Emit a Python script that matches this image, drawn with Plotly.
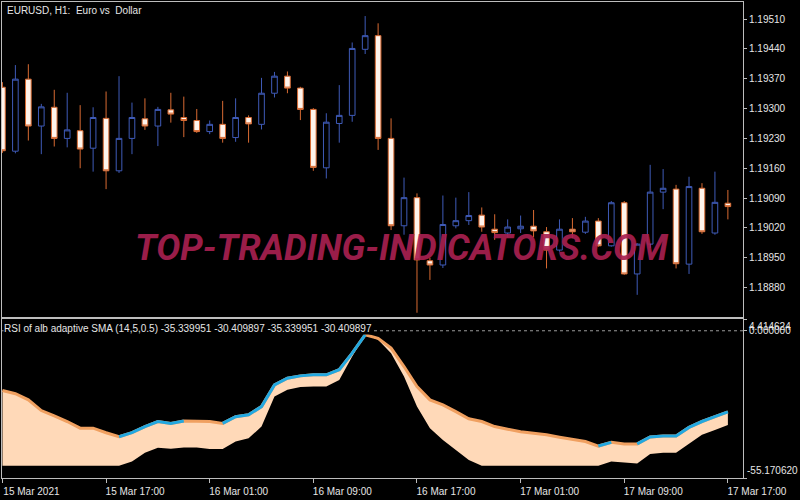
import pandas as pd
import plotly.graph_objects as go

# ---------------- data ----------------
times = pd.date_range("2021-03-15 09:00", periods=57, freq="h")

open_ = [1.19350, 1.19200, 1.19369, 1.19259, 1.19303, 1.19230, 1.19248, 1.19207, 1.19277, 1.19154,
         1.19230, 1.19276, 1.19259, 1.19297, 1.19279, 1.19272, 1.19246, 1.19263, 1.19232, 1.19279,
         1.19263, 1.19336, 1.19376, 1.19348, 1.19298, 1.19161, 1.19265, 1.19284, 1.19439, 1.19471,
         1.19230, 1.19025, 1.19091, 1.18943, 1.18933, 1.19025, 1.19037, 1.19050, 1.19017, 1.19008,
         1.19018, 1.19024, 1.19011, 1.18968, 1.19017, 1.19010, 1.19036, 1.18978, 1.19079, 1.18912,
         1.18982, 1.19104, 1.19111, 1.18935, 1.19113, 1.19008, 1.19078]
high = [1.19362, 1.19402, 1.19404, 1.19311, 1.19344, 1.19337, 1.19308, 1.19303, 1.19340, 1.19376,
        1.19314, 1.19324, 1.19304, 1.19337, 1.19328, 1.19299, 1.19272, 1.19318, 1.19324, 1.19284,
        1.19372, 1.19386, 1.19387, 1.19351, 1.19301, 1.19289, 1.19355, 1.19455, 1.19517, 1.19500,
        1.19277, 1.19138, 1.19101, 1.18950, 1.19096, 1.19091, 1.19104, 1.19068, 1.19052, 1.19040,
        1.19049, 1.19062, 1.19022, 1.19040, 1.19043, 1.19046, 1.19043, 1.19083, 1.19083, 1.18984,
        1.19168, 1.19158, 1.19121, 1.19140, 1.19125, 1.19152, 1.19109]
low = [1.19196, 1.19195, 1.19225, 1.19193, 1.19211, 1.19209, 1.19160, 1.19152, 1.19111, 1.19149,
       1.19193, 1.19250, 1.19212, 1.19267, 1.19233, 1.19243, 1.19240, 1.19220, 1.19222, 1.19220,
       1.19251, 1.19326, 1.19336, 1.19273, 1.19154, 1.19136, 1.19220, 1.19269, 1.19428, 1.19203,
       1.19015, 1.19004, 1.18821, 1.18898, 1.18926, 1.19019, 1.19027, 1.19011, 1.18992, 1.18998,
       1.19008, 1.18998, 1.18925, 1.18964, 1.18996, 1.19006, 1.18976, 1.18976, 1.18910, 1.18863,
       1.18973, 1.19064, 1.18925, 1.18912, 1.19006, 1.19004, 1.19040]
close = [1.19201, 1.19369, 1.19259, 1.19304, 1.19230, 1.19250, 1.19205, 1.19279, 1.19154, 1.19230,
         1.19279, 1.19259, 1.19298, 1.19287, 1.19272, 1.19246, 1.19263, 1.19230, 1.19279, 1.19264,
         1.19336, 1.19376, 1.19348, 1.19298, 1.19162, 1.19268, 1.19284, 1.19441, 1.19471, 1.19230,
         1.19025, 1.19091, 1.18945, 1.18933, 1.19028, 1.19037, 1.19049, 1.19022, 1.19009, 1.19022,
         1.19024, 1.19013, 1.18968, 1.19017, 1.19011, 1.19036, 1.18978, 1.19079, 1.18912, 1.18982,
         1.19104, 1.19113, 1.18936, 1.19117, 1.19011, 1.19080, 1.19070]

rsi_upper = [-22.4, -23.6, -25.9, -29.9, -31.9, -34.0, -36.5, -36.5, -38.2, -39.7,
             -38.2, -35.9, -34.0, -34.7, -33.8, -33.8, -34.0, -34.7, -32.2, -31.5,
             -28.4, -20.3, -17.8, -16.9, -16.5, -16.5, -14.6, -8.4, -1.5, -2.8,
             -6.5, -13.4, -20.9, -25.9, -27.8, -30.3, -33.0, -34.0, -35.9, -36.9,
             -37.8, -38.4, -39.0, -39.9, -40.7, -41.5, -43.2, -41.8, -42.4, -42.4,
             -39.8, -39.4, -39.4, -36.2, -34.0, -32.2, -30.409897]
rsi_lower = [-50.6, -50.6, -50.6, -50.6, -50.6, -50.6, -50.6, -50.6, -50.6, -50.6,
             -49.0, -45.7, -43.8, -44.2, -43.7, -43.7, -44.3, -44.3, -41.5, -40.3,
             -35.9, -24.6, -22.1, -21.1, -20.9, -20.9, -18.4, -9.6, -1.5, -3.4,
             -8.4, -17.1, -28.4, -36.5, -40.9, -44.7, -48.4, -50.6, -50.6, -50.6,
             -50.6, -50.6, -50.6, -50.6, -50.6, -50.6, -50.6, -49.0, -49.4, -49.7,
             -46.2, -45.7, -45.7, -42.2, -39.0, -37.2, -35.339951]

x_tick_idx = [0, 8, 16, 24, 32, 40, 48, 56]
x_tick_text = ["15 Mar 2021", "15 Mar 17:00", "16 Mar 01:00", "16 Mar 09:00",
               "16 Mar 17:00", "17 Mar 01:00", "17 Mar 09:00", "17 Mar 17:00"]
price_ticks = [1.18880, 1.18950, 1.19020, 1.19090, 1.19160, 1.19230, 1.19300, 1.19370, 1.19440, 1.19510]
rsi_max, rsi_min = 4.414624, -55.170620

# ---------------- styles ----------------
BULL = "#3F5BB8"
BEAR = "#D86A32"
BEAR_FILL = "#FFF4EC"
PEACH = "#FFD9B8"
ORANGE = "#F0A060"
CYAN = "#22A8E0"
FRAME = "#BDBDBD"
TXT = "#E6E6E6"
FONT = "Liberation Sans"

W, H = 800, 500
xd = [2 / W, 743 / W]
top_dom = [183 / H, 498 / H]
bot_dom = [22 / H, 181 / H]

xr = [times[0] - pd.Timedelta(minutes=2), times[-1] + pd.Timedelta(minutes=70)]

fig = go.Figure()
fig.add_trace(go.Candlestick(
    x=times, open=open_, high=high, low=low, close=close,
    xaxis="x", yaxis="y", whiskerwidth=0, hoverinfo="skip",
    increasing=dict(line=dict(color=BULL, width=1), fillcolor="black"),
    decreasing=dict(line=dict(color=BEAR, width=1), fillcolor=BEAR_FILL),
    showlegend=False))

# lower indicator: band between two lines
fig.add_trace(go.Scatter(x=times, y=rsi_lower, xaxis="x2", yaxis="y2", mode="lines",
                         line=dict(width=0, color=PEACH), showlegend=False, hoverinfo="skip"))
fig.add_trace(go.Scatter(x=times, y=rsi_upper, xaxis="x2", yaxis="y2", mode="lines",
                         line=dict(width=0, color=PEACH), fill="tonexty", fillcolor=PEACH,
                         showlegend=False, hoverinfo="skip"))
fig.add_trace(go.Scatter(x=times, y=rsi_upper, xaxis="x2", yaxis="y2", mode="lines",
                         line=dict(width=3, color=ORANGE), showlegend=False, hoverinfo="skip"))
cyan_y = [None] * len(rsi_upper)
for i in range(1, len(rsi_upper)):
    if rsi_upper[i] > rsi_upper[i - 1]:
        cyan_y[i - 1] = rsi_upper[i - 1]
        cyan_y[i] = rsi_upper[i]
fig.add_trace(go.Scatter(x=times, y=cyan_y, xaxis="x2", yaxis="y2", mode="lines",
                         line=dict(width=3, color=CYAN), connectgaps=False,
                         showlegend=False, hoverinfo="skip"))

axis_common = dict(showgrid=False, zeroline=False, showline=True, mirror=True,
                   linecolor=FRAME, linewidth=1, automargin=False)

fig.update_layout(
    width=W, height=H,
    margin=dict(l=0, r=0, t=0, b=0, autoexpand=False),
    paper_bgcolor="black", plot_bgcolor="black",
    font=dict(family=FONT, size=10, color=TXT),
    boxgap=0.38,
    xaxis=dict(domain=xd, anchor="y", range=xr, showticklabels=False, ticks="",
               rangeslider=dict(visible=False), **axis_common),
    yaxis=dict(domain=top_dom, anchor="x", side="right", range=[1.18811, 1.19550],
               tickvals=price_ticks, tickformat=".5f", ticks="outside", ticklen=3,
               tickcolor=FRAME, tickfont=dict(size=10, color=TXT), **axis_common),
    xaxis2=dict(domain=xd, anchor="y2", range=xr, matches="x",
                tickvals=[times[i] for i in x_tick_idx], ticktext=x_tick_text,
                ticks="outside", ticklen=4, tickcolor=FRAME, ticklabelshift=29,
                tickfont=dict(size=10, color=TXT), **axis_common),
    yaxis2=dict(domain=bot_dom, anchor="x2", side="right", range=[rsi_min, rsi_max],
                tickvals=[rsi_max, 0, rsi_min], ticks="outside", ticklen=3, tickcolor=FRAME,
                showticklabels=False, **axis_common),
)

# zero level dotted line
fig.add_shape(type="line", xref="x2 domain", yref="y2", x0=0, x1=1, y0=0, y1=0,
              line=dict(color="#9A9A9A", width=1, dash="dot"), layer="above")

ann = [
    dict(text="EURUSD, H1:\u00a0 Euro vs\u00a0 Dollar", x=5 / W, y=1 - 10 / H,
         xanchor="left", yanchor="middle", font=dict(size=10, color=TXT)),
    dict(text="RSI of alb adaptive SMA (14,5,0.5) -35.339951 -30.409897 -35.339951 -30.409897",
         x=3 / W, y=1 - 328 / H, xanchor="left", yanchor="middle", bgcolor="black",
         borderpad=0, font=dict(size=10, color=TXT)),
    dict(text="TOP-TRADING-INDICATORS.COM", x=401 / W, y=1 - 248 / H,
         xanchor="center", yanchor="middle", opacity=0.92,
         font=dict(family="Roboto", size=36, color="#A82050", weight="bold", style="italic")),
]
for a in ann:
    a.update(xref="paper", yref="paper", showarrow=False)
    fig.add_annotation(**a)

fig.add_annotation(text="4.414624", xref="paper", yref="y2", x=747 / W, y=rsi_max,
                   xanchor="left", yanchor="top", showarrow=False, font=dict(size=10, color=TXT))
fig.add_annotation(text="0.000000", xref="paper", yref="y2", x=747 / W, y=0,
                   xanchor="left", yanchor="middle", showarrow=False, font=dict(size=10, color=TXT))
fig.add_annotation(text=f"{rsi_min:.6f}", xref="paper", yref="y2", x=745 / W, y=rsi_min,
                   xanchor="left", yanchor="bottom", showarrow=False, font=dict(size=10, color=TXT))

fig.write_html("out.html", config={"displayModeBar": False, "staticPlot": True},
               post_script="document.body.style.margin='0';document.body.style.overflow='hidden';")
